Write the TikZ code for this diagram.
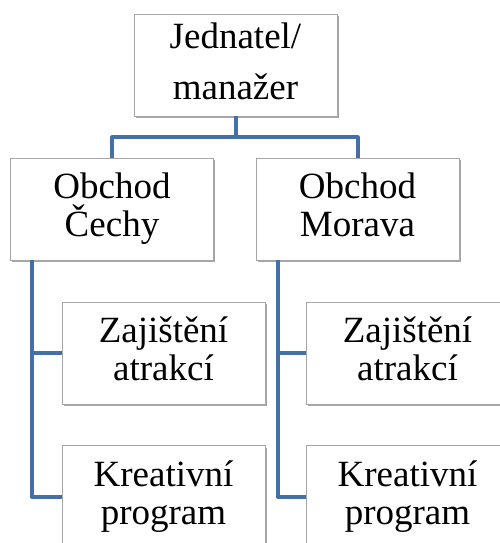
\documentclass[tikz,border=0pt]{standalone}
\usepackage{fontspec}
\setmainfont{Liberation Serif}
\usetikzlibrary{positioning,shadows}
\definecolor{orgline}{HTML}{4470AA}
\definecolor{orgframe}{HTML}{A6A6A6}
\tikzset{
  orgbox/.style={rectangle, draw=orgframe, line width=0.8pt, fill=white,
    minimum width=203pt, minimum height=102pt, inner sep=0pt,
    align=center, font=\fontsize{37}{38}\selectfont,
    execute at begin node=\rule{0pt}{45pt},
    execute at end node=\rule[-8pt]{0pt}{8pt},
    drop shadow={shadow xshift=1.5pt, shadow yshift=-2pt,
      fill=black, opacity=0.35}},
  orglink/.style={draw=orgline, line width=4pt, line join=round}
}

\begin{document}
\begin{tikzpicture}[x=1pt, y=-1pt]
  \useasboundingbox (0,0) rectangle (500,543);
  \clip (0,0) rectangle (500,543);
  % top of the chart and the two branches
  \node[orgbox, font=\fontsize{37}{51}\selectfont] (top) at (235.5,65) {Jednatel/\\manažer};
  \node[orgbox] (cechy) at (112,209) {Obchod\\Čechy};
  \node[orgbox] (morava) at (357.5,209) {Obchod\\Morava};
  % tasks under each branch
  \node[orgbox] (cechyA) at (163.5,353) {Zajištění\\atrakcí};
  \node[orgbox, below=41pt of cechyA] (cechyB) {Kreativní\\program};
  \node[orgbox] (moravaA) at (407.5,353) {Zajištění\\atrakcí};
  \node[orgbox, below=41pt of moravaA] (moravaB) {Kreativní\\program};
  % connectors
  \coordinate (bus) at ([yshift=-21pt]top.south);
  \coordinate (cechyS) at ([xshift=22pt]cechy.south west);
  \coordinate (moravaS) at ([xshift=22pt]morava.south west);
  \draw[orglink] (top.south) -- (bus) -| (cechy.north);
  \draw[orglink] (bus) -| (morava.north);
  \draw[orglink] (cechyS) |- (cechyA.west);
  \draw[orglink] (cechyS) |- (cechyB.west);
  \draw[orglink] (moravaS) |- (moravaA.west);
  \draw[orglink] (moravaS) |- (moravaB.west);
\end{tikzpicture}
\end{document}
